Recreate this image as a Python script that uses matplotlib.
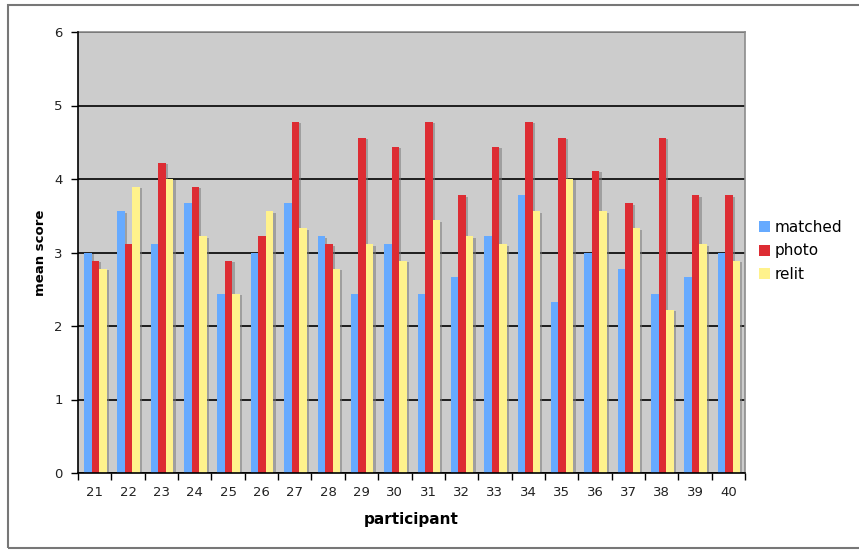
import matplotlib
matplotlib.use("Agg")
import matplotlib.pyplot as plt
import matplotlib.patheffects as pe
from matplotlib.patches import Rectangle, Patch
import numpy as np

participants = [str(p) for p in range(21, 41)]
matched = [3.00, 3.56, 3.11, 3.67, 2.44, 3.00, 3.67, 3.22, 2.44, 3.11,
           2.44, 2.67, 3.22, 3.78, 2.33, 3.00, 2.78, 2.44, 2.67, 3.00]
photo = [2.89, 3.11, 4.22, 3.89, 2.89, 3.22, 4.78, 3.11, 4.56, 4.44,
         4.78, 3.78, 4.44, 4.78, 4.56, 4.11, 3.67, 4.56, 3.78, 3.78]
relit = [2.78, 3.89, 4.00, 3.22, 2.44, 3.56, 3.33, 2.78, 3.11, 2.89,
         3.44, 3.22, 3.11, 3.56, 4.00, 3.56, 3.33, 2.22, 3.11, 2.89]

series = [("matched", matched, "#66AAFF"),
          ("photo", photo, "#DD2C33"),
          ("relit", relit, "#FFF28C")]

fig = plt.figure(figsize=(8.59, 5.50), dpi=100)
ax = fig.add_axes([78 / 859, 1 - 473 / 550, (745 - 78) / 859, (473 - 32) / 550])
ax.set_facecolor("#CCCCCC")

x = np.arange(len(participants))
width = 0.225
shadow = [pe.SimplePatchShadow(offset=(1.6, -1.0), shadow_rgbFace="#7A7A7A", alpha=0.55),
          pe.Normal()]
handles = []
for i, (name, vals, color) in enumerate(series):
    bars = ax.bar(x + (i - 1) * width + 0.02, vals, width, color=color,
                  zorder=3, linewidth=0)
    for b in bars:
        b.set_path_effects(shadow)
    handles.append(Patch(facecolor=color, edgecolor="none", label=name))

ax.set_xlim(-0.5, len(participants) - 0.5)
ax.set_ylim(0, 6)
ax.set_yticks(range(0, 7))
ax.yaxis.grid(True, color="black", linewidth=1.2, zorder=1)
ax.set_axisbelow(True)

# category boundaries carry the tick marks, centres carry the labels
ax.set_xticks(np.arange(-0.5, len(participants)), minor=False)
ax.set_xticklabels([])
ax.set_xticks(x, minor=True)
ax.set_xticklabels(participants, minor=True)
ax.tick_params(axis="x", which="major", direction="out", length=5, width=1, color="black")
ax.tick_params(axis="x", which="minor", length=0, pad=9, labelsize=9.5, labelcolor="#222222")
ax.tick_params(axis="y", direction="out", length=5, width=1, color="black",
               pad=6, labelsize=9.5, labelcolor="#222222")

for side in ("left", "bottom"):
    ax.spines[side].set_color("black")
    ax.spines[side].set_linewidth(1.2)
    ax.spines[side].set_zorder(4)
for side in ("top", "right"):
    ax.spines[side].set_color("#8C8C8C")
    ax.spines[side].set_linewidth(1.2)

ax.set_xlabel("participant", fontsize=11, fontweight="bold", labelpad=10)
ax.set_ylabel("mean score", fontsize=9.5, fontweight="bold", labelpad=5)

ax.legend(handles=handles, loc="center left", bbox_to_anchor=(759 / 859, 1 - 251 / 550),
          bbox_transform=fig.transFigure, frameon=False, fontsize=11,
          handlelength=0.75, handleheight=0.75, handletextpad=0.3,
          labelspacing=0.55, borderpad=0, borderaxespad=0)

fig.patches.append(Rectangle((8 / 859, 1 - 548 / 550), 1.0, (548 - 5) / 550,
                             transform=fig.transFigure, fill=False,
                             edgecolor="#777777", linewidth=1.5))

fig.savefig("out.png", dpi=100)
